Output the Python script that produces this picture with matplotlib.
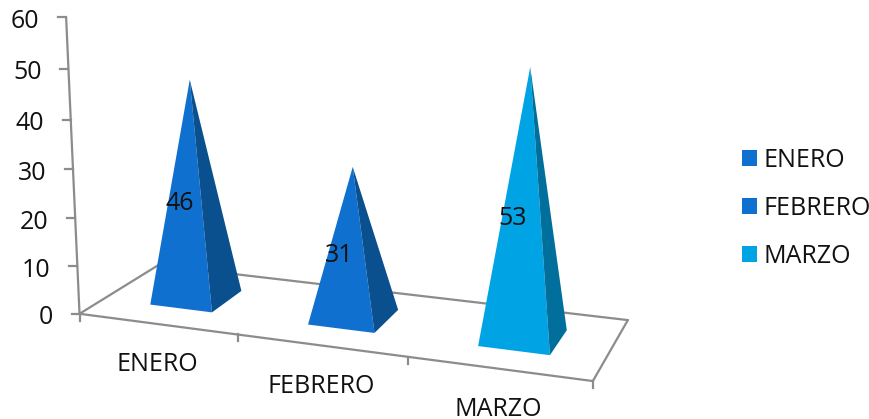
import numpy as np
import matplotlib
matplotlib.use("Agg")
import matplotlib.pyplot as plt
from matplotlib.patches import Patch

plt.rcParams["font.family"] = ["Open Sans", "DejaVu Sans"]

categories = ["ENERO", "FEBRERO", "MARZO"]
values = [46, 31, 53]
front_colors = ["#1070D0", "#1070D0", "#00A3E4"]
side_colors = ["#0A4F8E", "#0A4F8E", "#006F9C"]
value_ticks = [0, 10, 20, 30, 40, 50, 60]

AXIS = "#8C8C8C"
FS = 18
BASE_DX = 0.2
BASE_DY = 0.21


# the chart is a 3d perspective one, so fit a camera to some anchors in pixels
def fit_camera():
    world = [(0, 0, 0), (3, 0, 0), (3, 1, 0), (0, 1, 0), (0, 0, 60),
             (1, 0, 0), (2, 0, 0),
             (0.5, 0.5, 46), (1.5, 0.5, 31), (2.5, 0.5, 53)]
    pixel = [(80, 314), (593, 381), (628, 320), (158, 265), (66, 17),
             (237, 334.5), (408, 356.8),
             (190, 80), (353, 167), (530, 67)]
    rows = []
    for (x, y, z), (u, v) in zip(world, pixel):
        rows.append([x, y, z, 1, 0, 0, 0, 0, -u * x, -u * y, -u * z, -u])
        rows.append([0, 0, 0, 0, x, y, z, 1, -v * x, -v * y, -v * z, -v])
    return np.linalg.svd(np.array(rows, dtype=float))[2][-1].reshape(3, 4)


CAM = fit_camera()


def proj(x, y, z):
    p = CAM @ np.array([x, y, z, 1.0])
    return p[0] / p[2], p[1] / p[2]


fig = plt.figure(figsize=(8.7, 4.19), dpi=100)
ax = fig.add_axes([0, 0, 1, 1])
ax.set_xlim(0, 870)
ax.set_ylim(419, 0)
ax.axis("off")


def line(a, b):
    ax.plot([a[0], b[0]], [a[1], b[1]], color=AXIS, lw=1.6, solid_capstyle="round", zorder=1)


# floor and value axis
n = len(categories)
line(proj(0, 0, 0), proj(n, 0, 0))
line(proj(n, 0, 0), proj(n, 1, 0))
line(proj(n, 1, 0), proj(0, 1, 0))
line(proj(0, 1, 0), proj(0, 0, 0))
line(proj(0, 0, 0), proj(0, 0, value_ticks[-1]))

for t in value_ticks:
    px, py = proj(0, 0, t)
    ax.plot([px - 8, px], [py, py], color=AXIS, lw=1.6, zorder=1)
    ax.text(px - 27, py + 4, str(t), fontsize=FS, ha="right", va="center", color="#111111")

for i in range(n + 1):
    px, py = proj(i, 0, 0)
    ax.plot([px, px], [py, py + 7], color=AXIS, lw=1.6, zorder=1)

for i, name in enumerate(categories):
    px, py = proj(i + 0.5, 0, 0)
    ax.text(px, py + 41, name, fontsize=FS, ha="center", va="center", color="#111111")

# pyramids
for i, val in enumerate(values):
    cx = i + 0.5
    apex = proj(cx, 0.5, val)
    fl = proj(cx - BASE_DX + 0.008, 0.5 - BASE_DY, 0)
    fr = proj(cx + BASE_DX + 0.008, 0.5 - BASE_DY, 0)
    br = proj(cx + BASE_DX + 0.008, 0.5 + BASE_DY, 0)
    ax.fill(*zip(fl, fr, apex), color=front_colors[i], lw=0, zorder=3)
    ax.fill(*zip(fr, br, apex), color=side_colors[i], lw=0, zorder=3)
    px, py = proj(cx, 0.5, val / 2)
    ax.text(px - 13, py + 13, str(val), fontsize=FS, ha="center", va="center",
            color="#111111", zorder=4)

handles = [Patch(color=c, lw=0) for c in front_colors]
ax.legend(handles, categories, loc="upper left", bbox_to_anchor=(742 / 870, 1 - 147.5 / 419),
          frameon=False, fontsize=FS, handlelength=0.6, handleheight=0.6,
          handletextpad=0.27, labelspacing=0.92, borderpad=0, borderaxespad=0,
          labelcolor="#111111")

fig.savefig("out.png", dpi=100)
